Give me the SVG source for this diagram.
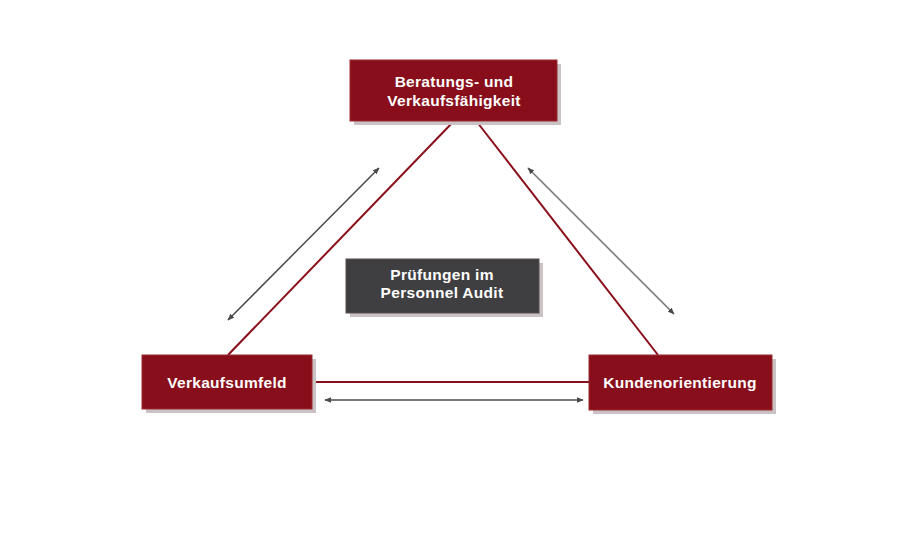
<svg xmlns="http://www.w3.org/2000/svg" width="907" height="540" viewBox="0 0 907 540">
<style>
.shadow{fill:#cbc3c3}
.red{fill:#870e1a;stroke:#9a2a33;stroke-width:1}
.dark{fill:#3f3e40;stroke:#5a4e50;stroke-width:1}
.t{font-family:"Liberation Sans",Arial,sans-serif;font-weight:bold;font-size:15.5px;letter-spacing:0.3px;fill:#fff;text-anchor:middle}
.edge{stroke:#8a0f1a;stroke-width:2;fill:none}
.arr{stroke:#4a4a4c;stroke-width:1.5;fill:none;marker-start:url(#a);marker-end:url(#a)}
</style>
<defs>
<marker id="a" viewBox="0 0 10 10" refX="9" refY="5" markerWidth="7" markerHeight="7" orient="auto-start-reverse" markerUnits="userSpaceOnUse">
<path d="M0,1 L10,5 L0,9 z" fill="#4a4a4c"/>
</marker>
</defs>
<rect width="907" height="540" fill="#fff"/>
<g id="connectors">
<line class="edge" x1="453" y1="122" x2="228" y2="355"/>
<line class="edge" x1="477" y1="122" x2="658" y2="355"/>
<line class="edge" x1="312" y1="382" x2="589" y2="382"/>
<line class="arr" x1="379" y1="168" x2="228" y2="320"/>
<line class="arr" x1="528" y1="168" x2="674" y2="314" style="stroke:#767474"/>
<line class="arr" x1="325" y1="400" x2="583" y2="400"/>
</g>
<g id="node-top">
<rect class="shadow" x="354" y="64" width="207" height="61"/>
<rect class="red" x="350" y="60" width="207" height="61"/>
<text class="t" x="454" y="87">Beratungs- und</text>
<text class="t" x="454" y="106">Verkaufsfähigkeit</text>
</g>
<g id="node-left">
<rect class="shadow" x="146" y="359" width="170" height="54"/>
<rect class="red" x="142" y="355" width="170" height="54"/>
<text class="t" x="227" y="388">Verkaufsumfeld</text>
</g>
<g id="node-right">
<rect class="shadow" x="593" y="359" width="183" height="55"/>
<rect class="red" x="589" y="355" width="183" height="55"/>
<text class="t" x="680" y="388">Kundenorientierung</text>
</g>
<g id="node-center">
<rect class="shadow" x="350" y="263" width="193" height="54"/>
<rect class="dark" x="346" y="259" width="193" height="54"/>
<text class="t" x="442" y="280">Prüfungen im</text>
<text class="t" x="442" y="298">Personnel Audit</text>
</g>
</svg>
